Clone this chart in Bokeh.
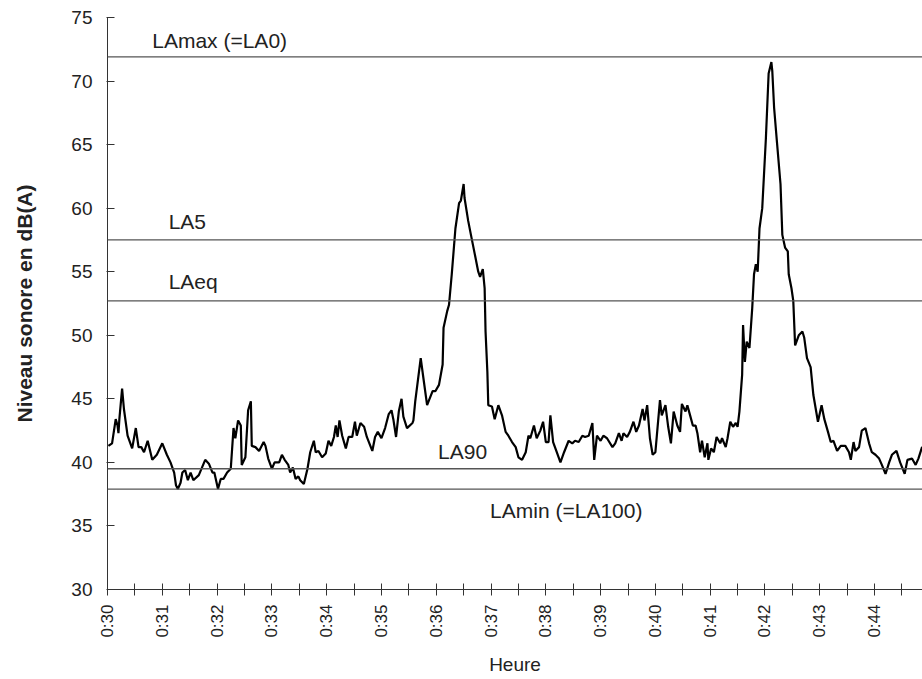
import math
from bokeh.plotting import figure
from bokeh.models import FixedTicker, Span, Label, Range1d
from bokeh.embed import file_html
from bokeh.resources import INLINE

# time in seconds after 0:30
secondes = [1, 5, 9, 11, 12, 13, 16, 18, 22, 27, 31, 34, 37, 40, 44, 49, 54, 60, 65, 69,
            73, 75, 77, 80, 82, 85, 88, 91, 94, 100, 107, 111, 115, 117, 121, 124, 127, 131, 135, 138,
            140, 143, 146, 147, 151, 154, 157, 158, 162, 166, 171, 173, 176, 180, 183, 188, 191, 194, 198, 200,
            203, 206, 209, 211, 215, 219, 222, 226, 228, 231, 235, 239, 242, 245, 248, 250, 252, 254, 257, 261,
            264, 268, 271, 273, 277, 281, 284, 290, 293, 296, 300, 304, 308, 311, 313, 316, 319, 322, 324, 328,
            334, 335, 337, 343, 346, 350, 356, 359, 363, 367, 368, 372, 374, 377, 381, 385, 387, 390, 391, 395,
            398, 403, 406, 408, 411, 413, 414, 416, 417, 421, 424, 428, 432, 436, 439, 443, 447, 450, 454, 458,
            461, 463, 467, 470, 474, 477, 480, 483, 485, 488, 492, 496, 500, 505, 509, 512, 516, 520, 523, 527,
            531, 533, 536, 540, 543, 547, 553, 556, 560, 563, 565, 569, 572, 576, 579, 582, 586, 588, 591, 594,
            597, 600, 605, 607, 611, 614, 617, 620, 624, 627, 629, 633, 635, 638, 641, 644, 646, 649, 651, 654,
            657, 658, 661, 664, 667, 671, 673, 677, 679, 682, 685, 688, 690, 692, 695, 696, 698, 700, 703, 706,
            708, 710, 712, 714, 717, 721, 724, 727, 728, 730, 733, 737, 739, 742, 745, 746, 749, 751, 753, 757,
            761, 763, 766, 770, 773, 778, 782, 785, 789, 792, 795, 799, 803, 808, 812, 814, 817, 819, 823, 826,
            830, 834, 837, 841, 845, 848, 852, 856, 859, 864, 868, 873, 876, 881, 885, 888, 892, 896]

niveau_db = [41.3, 41.5, 43.4, 42.9, 42.3, 43.4, 45.8, 44.2, 42.1, 41.1, 42.7, 41.2, 41.2, 40.8, 41.7, 40.2, 40.6, 41.5, 40.6, 40.0,
             39.2, 38.2, 37.9, 38.4, 39.2, 39.4, 38.6, 39.2, 38.6, 39.0, 40.2, 39.9, 39.2, 39.2, 37.9, 38.7, 38.7, 39.2, 39.5, 42.7,
             41.9, 43.3, 42.9, 39.8, 40.4, 44.1, 44.8, 41.3, 41.2, 40.9, 41.6, 41.3, 40.3, 39.5, 40.0, 40.0, 40.6, 40.2, 39.8, 39.2,
             39.6, 38.7, 38.9, 38.6, 38.3, 39.5, 40.8, 41.7, 40.8, 40.9, 40.4, 40.7, 41.7, 41.3, 42.0, 42.9, 42.0, 43.3, 42.1, 41.1,
             42.0, 42.0, 43.2, 42.1, 43.1, 42.8, 42.0, 40.9, 42.0, 42.4, 41.9, 42.7, 43.8, 44.1, 43.4, 42.0, 44.0, 45.0, 43.6, 42.7,
             43.1, 43.3, 44.8, 48.2, 46.6, 44.5, 45.6, 45.6, 46.1, 47.7, 50.6, 51.9, 52.4, 54.8, 58.4, 60.4, 60.6, 61.9, 60.8, 59.0,
             57.9, 56.1, 55.0, 54.6, 55.2, 53.7, 50.3, 47.1, 44.5, 44.4, 43.4, 44.5, 43.7, 42.4, 42.1, 41.6, 41.2, 40.4, 40.2, 40.8,
             42.1, 41.9, 42.9, 41.9, 42.5, 43.2, 41.6, 41.6, 43.7, 41.6, 40.8, 40.0, 40.8, 41.7, 41.5, 41.7, 41.6, 42.1, 42.0, 42.1,
             43.1, 40.2, 42.1, 41.7, 42.1, 41.9, 41.2, 41.5, 42.3, 41.7, 42.3, 42.0, 42.4, 43.2, 42.4, 42.9, 44.2, 43.3, 44.5, 41.9,
             40.6, 40.8, 44.9, 43.7, 44.5, 42.8, 41.5, 44.0, 42.9, 42.4, 44.6, 44.0, 44.5, 43.7, 42.9, 42.9, 42.3, 40.8, 41.7, 40.4,
             41.5, 40.2, 41.1, 40.8, 42.0, 41.5, 41.9, 41.2, 41.9, 43.2, 42.8, 43.1, 42.8, 44.0, 46.9, 50.8, 47.9, 49.5, 49.0, 52.1,
             54.8, 55.6, 55.0, 58.4, 60.0, 65.5, 70.6, 71.5, 70.8, 67.9, 65.3, 61.9, 57.9, 56.9, 56.6, 54.8, 53.7, 52.7, 49.2, 50.0,
             50.3, 49.8, 48.2, 47.5, 45.3, 43.2, 44.5, 43.4, 42.4, 41.6, 41.7, 40.9, 41.3, 41.3, 40.8, 40.2, 41.6, 40.9, 41.2, 42.5,
             42.7, 41.5, 40.8, 40.6, 40.3, 39.8, 39.1, 40.0, 40.6, 40.9, 40.0, 39.1, 40.2, 40.3, 39.8, 40.3, 41.2, 41.0]

indicateurs = ["LAmax (=LA0)", "LA5", "LAeq", "LA90", "LAmin (=LA100)"]
niveaux_indicateurs = [71.9, 57.5, 52.7, 39.5, 37.9]

heures = ["0:30", "0:31", "0:32", "0:33", "0:34", "0:35", "0:36", "0:37",
          "0:38", "0:39", "0:40", "0:41", "0:42", "0:43", "0:44"]
heures_sec = [60 * i for i in range(len(heures))]
demi_minutes = [60 * i + 30 for i in range(len(heures))]

FONT = "Liberation Sans"

p = figure(width=922, height=679, output_backend="svg", toolbar_location=None,
           x_range=Range1d(0, 892.5), y_range=Range1d(30, 75),
           min_border_left=107, min_border_right=0, min_border_top=17, min_border_bottom=90)
p.outline_line_color = None
p.background_fill_color = "white"
p.border_fill_color = "white"
p.xgrid.visible = False
p.ygrid.visible = False

# x axis
xa = p.xaxis[0]
xa.ticker = FixedTicker(ticks=heures_sec, minor_ticks=demi_minutes)
xa.major_label_overrides = {s: h for s, h in zip(heures_sec, heures)}
xa.major_label_orientation = math.pi / 2
xa.major_label_text_font = FONT
xa.major_label_text_font_size = "17px"
xa.major_label_text_color = "#222222"
xa.major_label_standoff = 9
xa.major_tick_in = 6
xa.major_tick_out = 6
xa.minor_tick_in = 6
xa.minor_tick_out = 6
xa.axis_line_color = "#333333"
xa.major_tick_line_color = "#333333"
xa.minor_tick_line_color = "#333333"
xa.axis_label = "Heure"
xa.axis_label_text_font = FONT
xa.axis_label_text_font_size = "19px"
xa.axis_label_text_font_style = "normal"
xa.axis_label_text_color = "#222222"
xa.axis_label_standoff = 13

# y axis
ya = p.yaxis[0]
ya.ticker = FixedTicker(ticks=[30, 35, 40, 45, 50, 55, 60, 65, 70, 75], minor_ticks=[])
ya.major_label_text_font = FONT
ya.major_label_text_font_size = "19px"
ya.major_label_text_color = "#222222"
ya.major_label_standoff = 14
ya.major_tick_in = 7
ya.major_tick_out = 1
ya.minor_tick_line_color = None
ya.axis_line_color = "#333333"
ya.major_tick_line_color = "#333333"
ya.axis_label = "Niveau sonore en dB(A)"
ya.axis_label_text_font = FONT
ya.axis_label_text_font_size = "21px"
ya.axis_label_text_font_style = "bold"
ya.axis_label_text_color = "#222222"
ya.axis_label_standoff = 32

# indicator lines
for niv in niveaux_indicateurs:
    p.add_layout(Span(location=niv, dimension="width", line_color="#555555", line_width=1.3))

# series
p.line(secondes, niveau_db, line_color="black", line_width=2.2)

# indicator labels (position in data coords)
label_pos = [(49, 73.2), (67, 58.95), (67, 54.2), (362, 40.86), (419, 36.2)]
for txt, (lx, ly) in zip(indicateurs, label_pos):
    p.add_layout(Label(x=lx, y=ly, text=txt, text_font=FONT, text_font_size="21px",
                       text_color="#222222", text_baseline="middle", text_align="left"))

open("out.html", "w").write(file_html(p, INLINE))
